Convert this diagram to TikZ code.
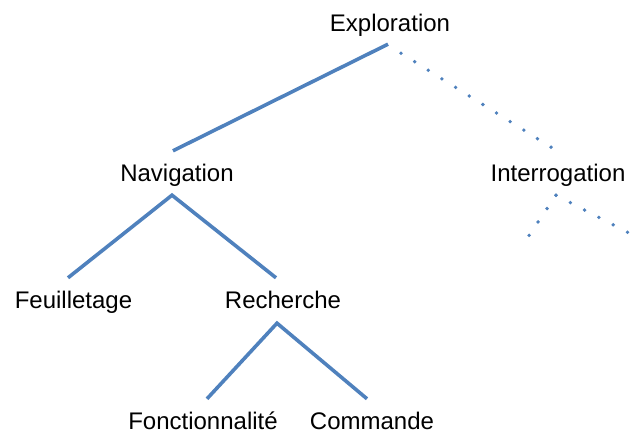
\documentclass[tikz,border=0pt]{standalone}
\usepackage{fontspec}
\setmainfont{Liberation Sans}
\usepackage{xcolor}
\definecolor{bleuppt}{RGB}{79, 129, 189}

\tikzset{
    etiquette/.style={anchor=base, inner sep=0pt, text height=17bp, text depth=5bp,
        font=\fontsize{24bp}{28bp}\selectfont},
    branche/.style={bleuppt, line width=3.6bp},
    pointille/.style={bleuppt, line width=3.8bp, line cap=round, dash pattern=on 0bp off 16.1bp}
}

\begin{document}
\begin{tikzpicture}[x=1bp, y=-1bp]
    \useasboundingbox (0, 0) rectangle (634, 435);

    % Noeuds de l'arbre
    \node[etiquette] (expl) at (390, 32) {Exploration};
    \node[etiquette] (nav) at (177, 182) {Navigation};
    \node[etiquette] (inter) at (558, 182) {Interrogation};
    \node[etiquette] (feuil) at (73.5, 309) {Feuilletage};
    \node[etiquette] (rech) at (283, 309) {Recherche};
    \node[etiquette, text depth=0bp] (fonc) at (203, 429) {Fonctionnalité};
    \node[etiquette, text depth=0bp] (comm) at (372, 429) {Commande};

    % Extremites libres sous Interrogation
    \coordinate (interG) at (528, 237);
    \coordinate (interD) at (629, 233);

    % Branches pleines
    \draw[branche] ([shift={(-2, 7)}]expl.south) -- ([shift={(-4, -14)}]nav.north);
    \draw[branche] ([shift={(-5.5, -14)}]feuil.north) -- ([shift={(-5, 8)}]nav.south)
        -- ([shift={(-7, -14)}]rech.north);
    \draw[branche] ([shift={(4, -13)}]fonc.north) -- ([shift={(-6, 9)}]rech.south)
        -- ([shift={(-5, -13)}]comm.north);

    % Branches en pointilles
    \draw[pointille] ([shift={(11, 16)}]expl.south) -- ([shift={(-6, -17)}]inter.north);
    \draw[pointille] ([shift={(-2, 8)}]inter.south) -- (interG);
    \draw[pointille] ([shift={(-2, 8)}]inter.south) -- (interD);
\end{tikzpicture}
\end{document}
